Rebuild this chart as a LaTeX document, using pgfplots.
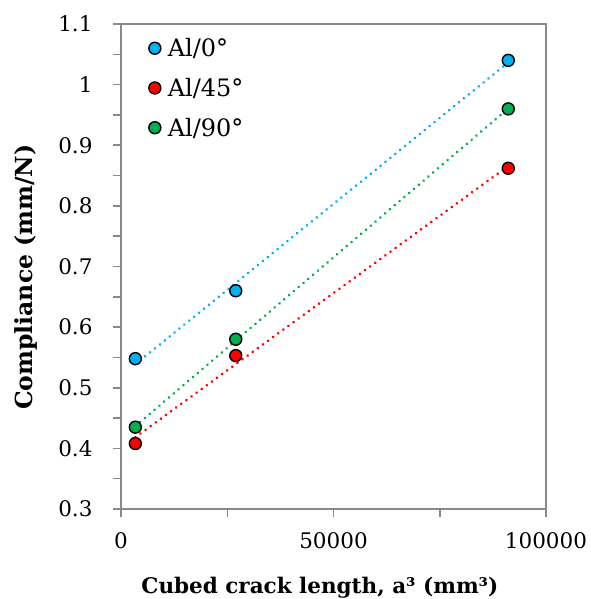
\documentclass[border=0pt]{standalone}
\usepackage{fontspec}
\setmainfont{DejaVu Serif}
\usepackage{pgfplots}
\pgfplotsset{compat=1.18}
\definecolor{cblue}{HTML}{00B0F0}
\definecolor{cred}{HTML}{FF0000}
\definecolor{cgreen}{HTML}{00B050}
\definecolor{axgray}{HTML}{898989}
\begin{document}
\begin{tikzpicture}
\begin{axis}[
  scale only axis, width=425pt, height=485pt,
  xmin=0, xmax=100000, ymin=0.3, ymax=1.1,
  xtick={0,50000,100000}, xticklabels={0,50000,100000},
  minor xtick={25000,75000},
  ytick={0.3,0.4,0.5,0.6,0.7,0.8,0.9,1.0,1.1},
  yticklabels={0.3,0.4,0.5,0.6,0.7,0.8,0.9,1,1.1},
  minor ytick={0.35,0.45,0.55,0.65,0.75,0.85,0.95,1.05},
  scaled x ticks=false,
  xtick pos=left, ytick pos=left,
  tick align=outside,
  major tick length=8pt, minor tick length=8pt,
  tick style={axgray, line width=1.5pt},
  minor tick style={axgray, line width=1.5pt},
  axis line style={axgray, line width=1.5pt},
  tick label style={font=\fontsize{21.5}{26}\selectfont},
  xticklabel style={yshift=-12pt},
  yticklabel style={xshift=-17pt},
  /pgf/number format/assume math mode=true,
  xlabel={\textbf{Cubed crack length, a³ (mm³)}},
  ylabel={\textbf{Compliance (mm/N)}},
  xlabel style={font=\fontsize{21.5}{26}\selectfont, at={(rel axis cs:0.468,0)}, anchor=base, yshift=-84pt},
  ylabel style={font=\fontsize{23.5}{28}\selectfont, at={([xshift=-88pt]rel axis cs:0,0.478)}, anchor=base},
  legend style={draw=none, fill=none, at={(rel axis cs:0.058,0.979)}, anchor=north west,
    font=\fontsize{24}{28}\selectfont, row sep=16pt,
    /tikz/every odd column/.append style={column sep=5pt}},
  legend cell align=left,
  legend image code/.code={\draw[#1] plot coordinates {(0pt,0pt)};},
]
\coordinate (O) at (rel axis cs:0,0);
\addplot[only marks, mark=*, mark size=6pt, mark options={fill=cblue, draw=black, line width=1.4pt}]
  coordinates {(3375,0.548) (27000,0.660) (91125,1.040)};
\addlegendentry{Al/0°}
\addplot[only marks, mark=*, mark size=6pt, mark options={fill=cred, draw=black, line width=1.4pt}]
  coordinates {(3375,0.408) (27000,0.553) (91125,0.862)};
\addlegendentry{Al/45°}
\addplot[only marks, mark=*, mark size=6pt, mark options={fill=cgreen, draw=black, line width=1.4pt}]
  coordinates {(3375,0.435) (27000,0.580) (91125,0.960)};
\addlegendentry{Al/90°}
\addplot[forget plot, cblue, line width=3pt, line cap=round, dash pattern=on 0.01pt off 6.3pt]
  coordinates {(3375,0.5387) (91125,1.0366)};
\addplot[forget plot, cred, line width=3pt, line cap=round, dash pattern=on 0.01pt off 6.3pt]
  coordinates {(3375,0.4184) (91125,0.8658)};
\addplot[forget plot, cgreen, line width=3pt, line cap=round, dash pattern=on 0.01pt off 6.3pt]
  coordinates {(3375,0.4367) (91125,0.9606)};
\end{axis}
\pgfresetboundingbox
\path (O) ++(-121pt,-90pt) rectangle ++(590pt,599pt);
\end{tikzpicture}
\end{document}
